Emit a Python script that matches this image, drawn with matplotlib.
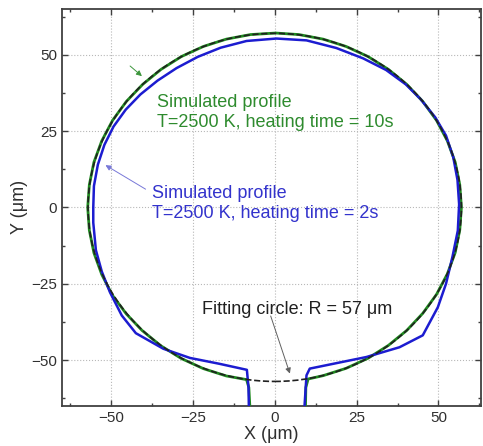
import matplotlib
matplotlib.use('Agg')
import matplotlib.pyplot as plt
from matplotlib.patches import Circle
from matplotlib.ticker import MultipleLocator

plt.rcParams['font.family'] = ['Liberation Sans', 'DejaVu Sans']

# профиль при 10 с (зелёный)
x_10s = [-7.6, -7.9, -8.6, -14.8, -21.8, -28.5, -34.8, -40.5, -45.3, -49.6, -52.8, -55.2,
         -56.6, -57.1, -56.6, -55.2, -52.8, -49.5, -45.3, -40.3, -34.7, -28.5, -21.8, -14.8,
         -7.4, 0.3, 7.4, 14.8, 21.8, 28.5, 34.7, 40.3, 45.2, 49.4, 52.7, 55.1, 56.5, 57.0,
         56.5, 55.1, 52.7, 49.4, 45.2, 40.3, 34.7, 28.5, 21.8, 14.8, 10.2, 9.5, 9.4]
y_10s = [-65.0, -59.0, -56.4, -55.2, -52.8, -49.5, -45.3, -40.3, -34.9, -28.7, -22.0, -14.9,
         -7.5, 0.0, 7.4, 14.8, 21.8, 28.5, 34.7, 40.3, 45.2, 49.4, 52.7, 55.1,
         56.6, 57.1, 56.6, 55.1, 52.7, 49.4, 45.2, 40.3, 34.7, 28.5, 21.8, 14.8, 7.4, 0.0,
         -7.4, -14.8, -21.8, -28.5, -34.7, -40.3, -45.2, -49.4, -52.7, -55.1, -56.2, -59.0, -65.0]

# профиль при 2 с (синий)
x_2s = [-7.9, -8.0, -8.5, -17.0, -25.9, -34.0, -42.4, -46.7, -50.3, -52.8, -54.6, -55.4,
        -55.4, -55.2, -54.0, -52.0, -49.2, -45.5, -41.0, -35.8, -30.0, -23.5, -16.5, -8.6,
        0.5, 9.7, 18.8, 27.0, 34.0, 40.0, 44.5, 49.0, 52.3, 54.5, 55.8, 56.3, 55.9, 54.3,
        52.3, 49.8, 45.2, 38.1, 28.0, 10.7, 9.7, 9.1]
y_2s = [-65.0, -59.0, -53.2, -51.2, -49.3, -46.3, -41.2, -35.4, -27.8, -21.0, -14.0, -5.0,
        0.0, 7.0, 14.0, 20.5, 26.5, 32.0, 37.0, 41.5, 45.6, 49.3, 52.3, 54.5,
        55.3, 54.7, 52.2, 48.8, 45.0, 40.3, 35.5, 29.5, 23.5, 16.5, 9.0, 1.0, -7.6, -16.0,
        -25.0, -32.7, -41.9, -45.8, -49.0, -52.8, -55.0, -65.0]

R_fit = 57  # радиус аппроксимирующей окружности

fig = plt.figure(figsize=(4.83, 4.46), dpi=100)
ax = fig.add_axes([0.128, 0.090, 0.868, 0.890])

green = '#1f8a1f'
blue = '#1c1cd0'

ax.plot(x_10s, y_10s, color=green, lw=2.0, zorder=3)
ax.plot(x_2s, y_2s, color=blue, lw=1.8, zorder=3)
ax.add_patch(Circle((0, 0), R_fit, fill=False, ls='--', lw=1.2, color='#202020', zorder=4))

ax.set_xlim(-65, 63)
ax.set_ylim(-65, 65)
ax.xaxis.set_major_locator(MultipleLocator(25))
ax.yaxis.set_major_locator(MultipleLocator(25))
ax.xaxis.set_minor_locator(MultipleLocator(12.5))
ax.yaxis.set_minor_locator(MultipleLocator(12.5))
ax.tick_params(which='both', direction='in', top=True, right=True, color='#404040',
               labelsize=11, labelcolor='#303030')
ax.tick_params(which='major', length=4, width=1)
ax.tick_params(which='minor', length=2.5, width=1)
for s in ax.spines.values():
    s.set_color('#404040')
    s.set_linewidth(1.3)
ax.grid(True, which='major', ls=':', color='#b8b8b8', lw=0.8)

ax.set_xlabel('X (\u03bcm)', fontsize=13, color='#303030', labelpad=1)
ax.set_ylabel('Y (\u03bcm)', fontsize=13, color='#303030', labelpad=2)

ax.text(-36, 31, 'Simulated profile\nT=2500 K, heating time = 10s', color='#2e8b2e',
        fontsize=13, va='center', ha='left', linespacing=1.22)
ax.text(-37.5, 1.3, 'Simulated profile\nT=2500 K, heating time = 2s', color='#3333cc',
        fontsize=13, va='center', ha='left', linespacing=1.2)
ax.text(-22.3, -33.4, 'Fitting circle: R = 57 \u03bcm', color='#202020',
        fontsize=13, va='center', ha='left')

ax.annotate('', xy=(-39.9, 42.4), xytext=(-44.8, 46.9),
            arrowprops=dict(arrowstyle='-|>', color='#3c963c', lw=0.7, mutation_scale=8))
ax.annotate('', xy=(-52.4, 14.3), xytext=(-38.7, 5.5),
            arrowprops=dict(arrowstyle='-|>', color='#7878d8', lw=0.7, mutation_scale=8))
ax.annotate('', xy=(4.9, -55.3), xytext=(-1.5, -34.7),
            arrowprops=dict(arrowstyle='-|>', color='#606060', lw=0.7, mutation_scale=8))

fig.savefig('out.png', dpi=100)
